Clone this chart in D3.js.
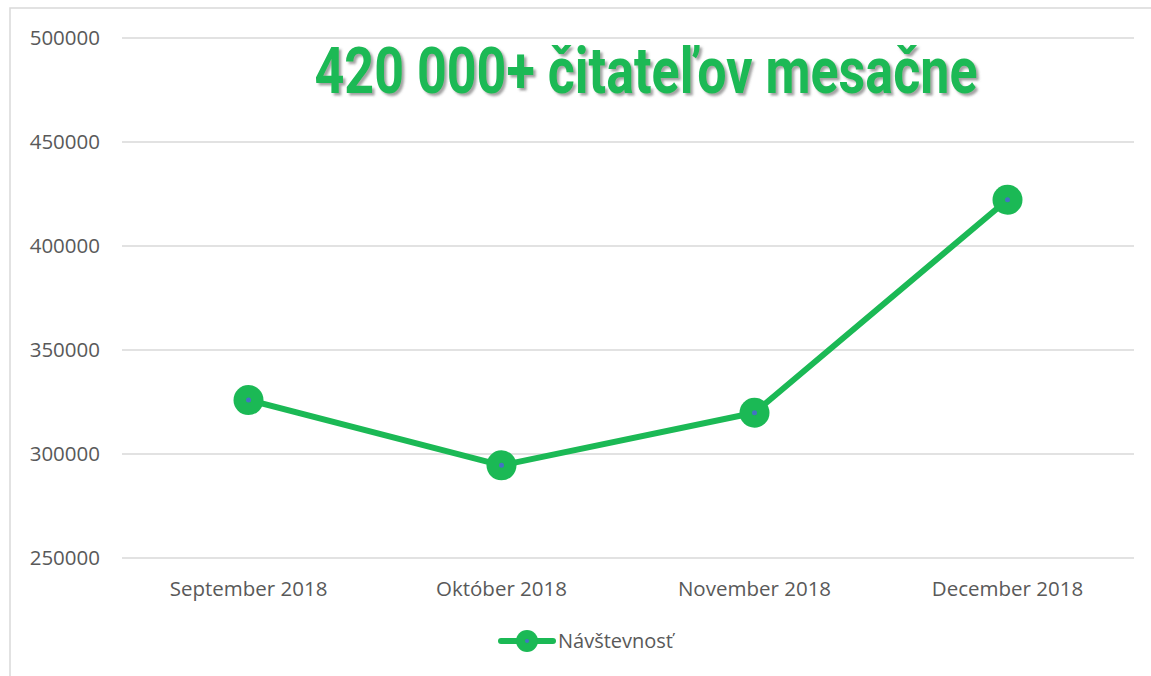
<!DOCTYPE html>
<html lang="sk">
<head>
    <meta charset="UTF-8">
    <title>Návštevnosť</title>
    <script src="https://d3js.org/d3.v7.min.js"></script>
    <style>
        body { margin: 0; background: #fff; }
        svg { display: block; }
        .tick text { font-family: "Open Sans", sans-serif; font-size: 20.5px; fill: #595959; }
        .legend text { font-family: "Open Sans", sans-serif; font-size: 20px; fill: #595959; }
    </style>
</head>
<body>
    <div id="chart"></div>
    <script>
        const months = ["September 2018", "Október 2018", "November 2018", "December 2018"];
        const visitors = [325700, 294300, 319600, 422000];
        const yTicks = [250000, 300000, 350000, 400000, 450000, 500000];
        const seriesName = "Návštevnosť";
        const title = "420 000+ čitateľov mesačne";

        const W = 1151, H = 676;
        const green = "#1bb955";

        const svg = d3.select("#chart").append("svg")
            .attr("width", W)
            .attr("height", H);

        // tieň titulku
        svg.append("defs").append("filter")
            .attr("id", "shadow")
            .attr("x", "-5%").attr("y", "-20%").attr("width", "110%").attr("height", "140%")
            .append("feDropShadow")
            .attr("dx", 2.5).attr("dy", 2.5).attr("stdDeviation", 1.2)
            .attr("flood-color", "#555").attr("flood-opacity", 0.55);

        // rámik grafu
        svg.append("rect")
            .attr("x", 10).attr("y", 8)
            .attr("width", W + 10).attr("height", H + 10)
            .attr("fill", "none")
            .attr("stroke", "#d9d9d9")
            .attr("stroke-width", 1.5);

        const x = d3.scaleBand()
            .domain(months)
            .range([122, 1134]);

        const y = d3.scaleLinear()
            .domain([250000, 500000])
            .range([557.5, 37.5]);

        // mriežka + os Y
        svg.append("g")
            .attr("transform", "translate(122,0)")
            .call(d3.axisLeft(y).tickValues(yTicks).tickFormat(d3.format("d"))
                .tickSize(-(1134 - 122)).tickPadding(22))
            .call(g => g.select(".domain").remove())
            .call(g => g.selectAll(".tick line").attr("stroke", "#d9d9d9").attr("stroke-width", 1.5));

        // os X
        svg.append("g")
            .attr("transform", "translate(0,557.5)")
            .call(d3.axisBottom(x).tickSize(0).tickPadding(24))
            .call(g => g.select(".domain").remove());

        // čiara
        const line = d3.line()
            .x((d, i) => x(months[i]) + x.bandwidth() / 2)
            .y(d => y(d));

        svg.append("path")
            .datum(visitors)
            .attr("fill", "none")
            .attr("stroke", green)
            .attr("stroke-width", 6)
            .attr("stroke-linejoin", "round")
            .attr("d", line);

        const pts = svg.append("g").selectAll("g")
            .data(visitors)
            .join("g")
            .attr("transform", (d, i) => `translate(${x(months[i]) + x.bandwidth() / 2},${y(d)})`);
        pts.append("circle").attr("r", 15).attr("fill", green);
        pts.append("circle").attr("r", 2.5).attr("fill", "#4472c4");

        // titulok
        svg.append("text")
            .attr("x", 646).attr("y", 93)
            .attr("font-family", "Roboto, sans-serif")
            .attr("font-weight", 700)
            .attr("font-size", 64)
            .attr("text-anchor", "middle")
            .attr("fill", green)
            .attr("filter", "url(#shadow)")
            .attr("textLength", 663)
            .attr("lengthAdjust", "spacingAndGlyphs")
            .text(title);

        // legenda
        const legend = svg.append("g").attr("class", "legend").attr("transform", "translate(527,641)");
        legend.append("line").attr("x1", -26).attr("x2", 26)
            .attr("stroke", green).attr("stroke-width", 6).attr("stroke-linecap", "round");
        legend.append("circle").attr("r", 11).attr("fill", green);
        legend.append("circle").attr("r", 2).attr("fill", "#4472c4");
        legend.append("text").attr("x", 31).attr("y", 7).text(seriesName);
    </script>
</body>
</html>
